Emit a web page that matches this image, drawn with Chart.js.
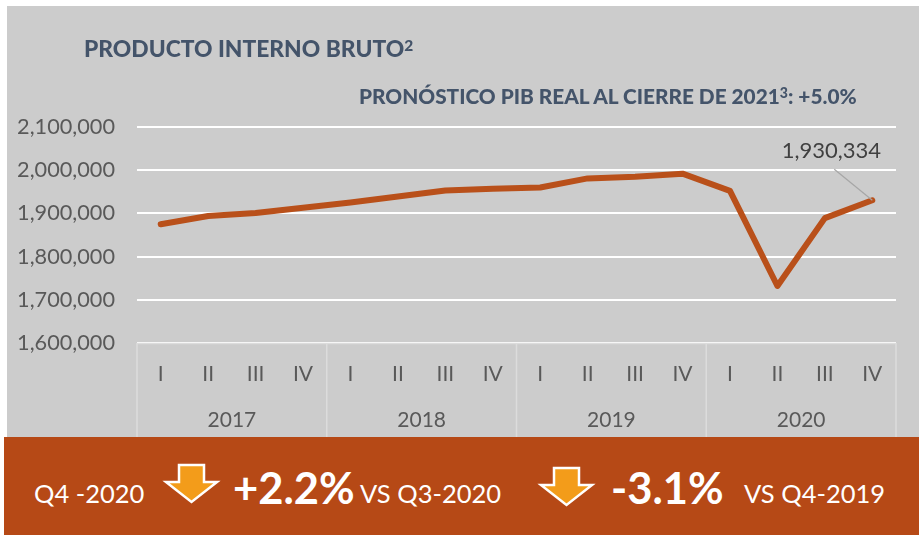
<!DOCTYPE html>
<html><head><meta charset="utf-8">
<script src="https://cdn.jsdelivr.net/npm/chart.js@4"></script>
<style>
html,body{margin:0;padding:0;background:#fff;}
#stage{position:relative;width:919px;height:535px;overflow:hidden;font-family:Lato,sans-serif;}
#bg{position:absolute;left:7px;top:6px;width:912px;height:431px;background:#cccccc;}
#wrap{position:absolute;left:7px;top:0;width:912px;height:437px;}
#banner{position:absolute;left:4px;top:437px;width:915px;height:98px;background:#b64916;}
.t{position:absolute;white-space:nowrap;line-height:1;}
sup{font-size:68%;line-height:0;vertical-align:baseline;position:relative;top:-0.42em;}
svg{position:absolute;}
</style></head>
<body>
<div id="stage">
<div id="bg"></div>
<div id="wrap"><canvas id="c" width="912" height="437"></canvas></div>
<div class="t" style="left:84px;top:37px;font-size:22.8px;font-weight:900;color:#44546a;">PRODUCTO INTERNO BRUTO<sup>2</sup></div>
<div class="t" style="left:359px;top:85.5px;font-size:20.8px;font-weight:900;color:#44546a;">PRONÓSTICO PIB REAL AL CIERRE DE 2021<sup>3</sup>: +5.0%</div>
<div id="banner"></div>
<div class="t" style="left:34px;top:481px;font-size:25.5px;color:#fff;">Q4 -2020</div>
<svg style="left:160px;top:460px" width="64" height="48"><polygon points="19,5 44,5 44,22 57,22 31.5,42 6,22 19,22" fill="#f39c1a" stroke="#fff" stroke-width="2.5"/></svg>
<div class="t" style="left:233px;top:466px;font-size:43.5px;font-weight:700;color:#fff;">+2.2%</div>
<div class="t" style="left:360px;top:481px;font-size:25.5px;color:#fff;">VS Q3-2020</div>
<svg style="left:535px;top:463px" width="64" height="48"><polygon points="19,5 44,5 44,22 57,22 31.5,42 6,22 19,22" fill="#f39c1a" stroke="#fff" stroke-width="2.5"/></svg>
<div class="t" style="left:611px;top:466px;font-size:43.5px;font-weight:700;color:#fff;">-3.1%</div>
<div class="t" style="left:744px;top:481px;font-size:25.5px;color:#fff;">VS Q4-2019</div>
</div>
<script>
const quarters = ['I','II','III','IV','I','II','III','IV','I','II','III','IV','I','II','III','IV'];
const years = ['2017','2018','2019','2020'];
const pib = [1875000,1894000,1901000,1913000,1925000,1939000,1953000,1957000,1960000,1981000,1985000,1992000,1952000,1732000,1889000,1930334];
const yTicks = [1600000,1700000,1800000,1900000,2000000,2100000];
const lastLabel = '1,930,334';

const TXT = '#595959', SEP = '#dcdcdc';
const decor = {
  id:'decor',
  afterDraw(ch){
    const c = ch.ctx, x = ch.scales.x, y = ch.scales.y, a = ch.chartArea;
    c.save();
    c.strokeStyle = SEP; c.lineWidth = 1.5;
    const step = (a.right - a.left) / years.length;
    c.beginPath();
    c.moveTo(a.left, a.bottom + .5); c.lineTo(a.right, a.bottom + .5);
    for (let i = 0; i <= years.length; i++) {
      const px = a.left + i * step;
      c.moveTo(px, a.bottom); c.lineTo(px, ch.height);
    }
    c.stroke();
    const n = pib.length - 1, px = x.getPixelForValue(n), py = y.getPixelForValue(pib[n]);
    c.strokeStyle = '#a6a6a6'; c.lineWidth = 1.2;
    c.beginPath(); c.moveTo(px - 38, py - 31); c.lineTo(px, py); c.stroke();
    c.fillStyle = '#404040'; c.font = '22px Lato, sans-serif';
    c.textAlign = 'center'; c.textBaseline = 'middle';
    c.fillText(lastLabel, px - 41, py - 49);
    c.restore();
  }
};
new Chart(document.getElementById('c'), {
  type:'line',
  data:{labels:quarters, datasets:[{data:pib, borderColor:'#b9501a', borderWidth:6, pointRadius:0, tension:0, borderCapStyle:'round', borderJoinStyle:'round', fill:false, clip:false}]},
  options:{
    responsive:false, animation:false,
    layout:{padding:{left:0,right:23,top:127,bottom:0}},
    plugins:{legend:{display:false},tooltip:{enabled:false},title:{display:false}},
    scales:{
      y:{min:1600000,max:2100000,
        afterFit(s){s.width=130;},
        border:{display:false},
        grid:{color:'#ffffff',lineWidth:2,drawTicks:false},
        afterBuildTicks(s){s.ticks=yTicks.map(v=>({value:v}));},
        ticks:{padding:22,color:TXT,font:{family:'Lato',size:21.7},callback:v=>v.toLocaleString('en-US')}},
      x:{type:'category',offset:true,labels:quarters,
        border:{display:false},grid:{display:false},
        afterFit(s){s.height=50;},
        ticks:{autoSkip:false,maxRotation:0,padding:11,color:TXT,font:{family:'Lato',size:21}}},
      x2:{type:'category',position:'bottom',offset:true,labels:years,
        border:{display:false},grid:{display:false},
        afterFit(s){s.height=44;},
        ticks:{autoSkip:false,maxRotation:0,padding:7,color:TXT,font:{family:'Lato',size:21}}}
    }
  },
  plugins:[decor]
});
</script>
</body></html>
